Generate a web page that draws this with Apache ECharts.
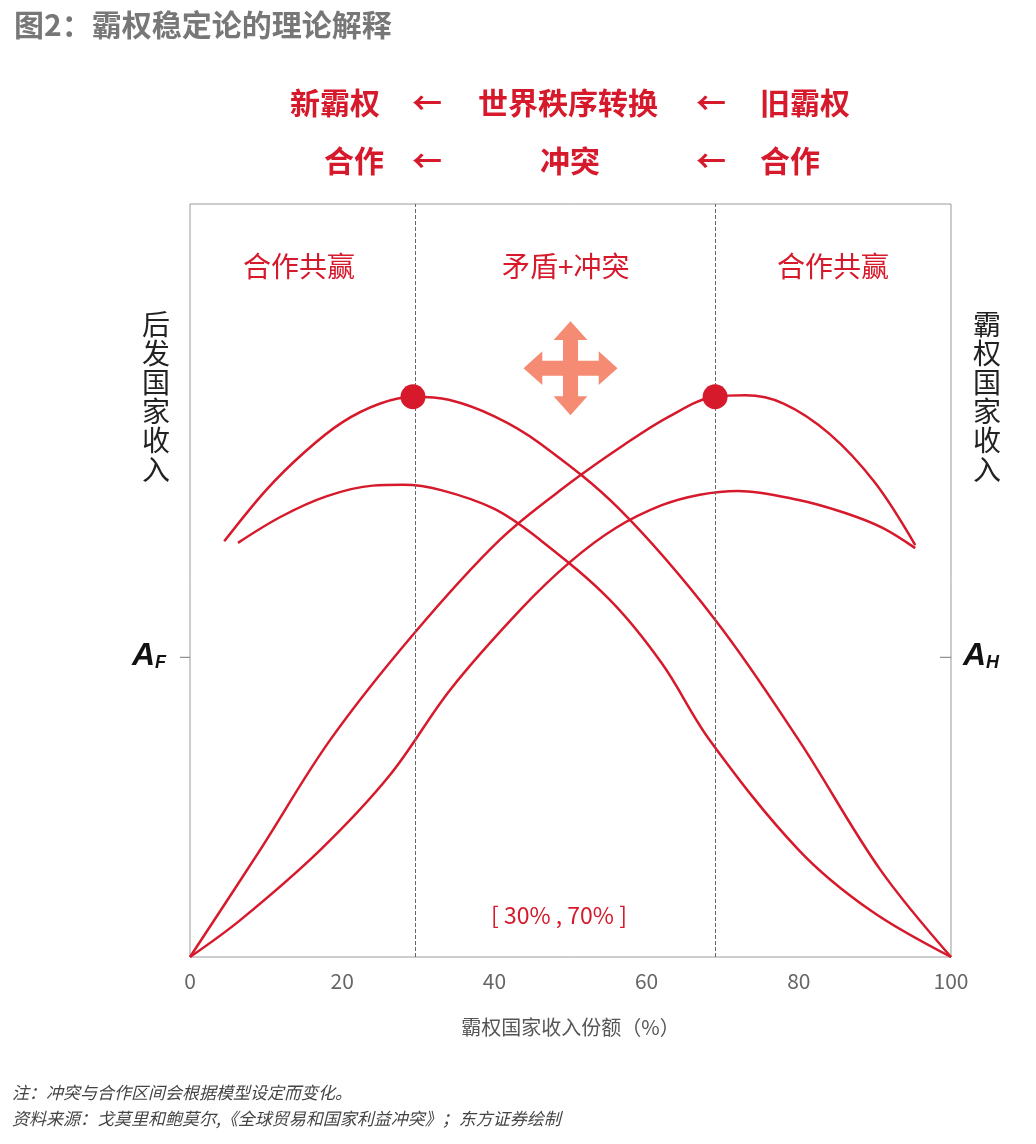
<!DOCTYPE html>
<html><head><meta charset="utf-8">
<script src="https://cdn.jsdelivr.net/npm/echarts@6/dist/echarts.min.js"></script>
<style>html,body{margin:0;background:#fff}#c{width:1036px;height:1144px}</style>
</head><body><div id="c"></div>
<script>
const RED = '#d7192c';
const FONT = '"Noto Sans CJK SC", sans-serif';

// curve points [share %, income]
const leftHigh  = [[4.5,55.2],[10,62],[15,67],[20,71],[25,73.5],[29.3,74.4],[34,74],[40,71.8],[46,68.2],[56.5,59.4],[69,44.8],[80,28.8],[90.7,11.6],[100,0]];
const leftLow   = [[6.3,55],[12,58.5],[18,61.2],[24,62.6],[28,62.7],[33,62],[40,59.5],[46,55.4],[55.2,47.4],[62,39],[68.3,28.8],[80,14.2],[89.4,6.2],[100,0]];
const rightHigh = [[0,0],[9.2,14.2],[18.4,28.8],[29.3,42.8],[40.7,55.4],[50,63],[57,68],[63,71.8],[68.9,74.4],[73,74.6],[78,73.5],[84,69.5],[90,63],[95.3,54.7]];
const rightLow  = [[0,0],[6.6,4.9],[17.1,14.2],[26.3,24.2],[34.2,35.5],[43.4,46.1],[50,52.5],[56,57],[62,60],[67,61.4],[72,61.9],[80,60.7],[86,59],[91,57],[95.3,54.3]];
const peaks = [[29.3,74.4],[69,74.4]];
const bounds = [29.6, 69];
const xTicks = [0, 20, 40, 60, 80, 100];
const aLevel = 39.8;

const chart = echarts.init(document.getElementById('c'));
const line = d => ({ type:'line', data:d, smooth:0.35, symbol:'none', lineStyle:{color:RED,width:2.5}, z:3 });
const arrow = 'path://M50,0 L68,20 L58,20 L58,42 L80,42 L80,32 L100,50 L80,68 L80,58 L58,58 L58,80 L68,80 L50,100 L32,80 L42,80 L42,58 L20,58 L20,68 L0,50 L20,32 L20,42 L42,42 L42,20 L32,20 Z';

chart.setOption({
  animation:false,
  grid:{left:190,right:85,top:204,bottom:187,show:true,borderColor:'#9a9a9a',borderWidth:1},
  xAxis:{type:'value',min:0,max:100,interval:20,
    axisLine:{show:false},axisTick:{show:false},splitLine:{show:false},
    axisLabel:{color:'#666',fontSize:21,fontFamily:FONT,margin:14,formatter:v=>xTicks.includes(v)?v:''},
    name:'霸权国家收入份额（%）',nameLocation:'middle',nameGap:60,
    nameTextStyle:{color:'#555',fontSize:20,fontFamily:FONT}},
  yAxis:{type:'value',min:0,max:100,show:false},
  series:[
    line(leftHigh), line(leftLow), line(rightHigh), line(rightLow),
    {type:'scatter',data:peaks,symbolSize:25,itemStyle:{color:RED,opacity:1},z:5,
     markLine:{silent:true,symbol:'none',label:{show:false},
       lineStyle:{color:'#666',type:'dashed',width:1},
       data:bounds.map(v=>({xAxis:v}))}},
    {type:'scatter',data:[[50,78.2]],symbol:arrow,symbolSize:94,itemStyle:{color:'#f58b72',opacity:1},z:2}
  ],
  graphic:[
    {type:'text',left:14,top:10,style:{text:'图2：霸权稳定论的理论解释',fill:'#777',font:'bold 30px '+FONT}},
    {type:'text',left:290,top:88,style:{text:'新霸权',fill:RED,font:'bold 30px '+FONT}},
    {type:'text',left:412,top:88,style:{text:'←',fill:RED,font:'bold 30px '+FONT}},
    {type:'text',left:478,top:88,style:{text:'世界秩序转换',fill:RED,font:'bold 30px '+FONT}},
    {type:'text',left:696,top:88,style:{text:'←',fill:RED,font:'bold 30px '+FONT}},
    {type:'text',left:760,top:88,style:{text:'旧霸权',fill:RED,font:'bold 30px '+FONT}},
    {type:'text',left:324,top:146,style:{text:'合作',fill:RED,font:'bold 30px '+FONT}},
    {type:'text',left:412,top:146,style:{text:'←',fill:RED,font:'bold 30px '+FONT}},
    {type:'text',left:540,top:146,style:{text:'冲突',fill:RED,font:'bold 30px '+FONT}},
    {type:'text',left:696,top:146,style:{text:'←',fill:RED,font:'bold 30px '+FONT}},
    {type:'text',left:760,top:146,style:{text:'合作',fill:RED,font:'bold 30px '+FONT}},
    {type:'text',left:243,top:252,style:{text:'合作共赢',fill:RED,font:'28px '+FONT}},
    {type:'text',left:502,top:252,style:{text:'矛盾+冲突',fill:RED,font:'28px '+FONT}},
    {type:'text',left:777,top:252,style:{text:'合作共赢',fill:RED,font:'28px '+FONT}},
    {type:'text',left:491,top:904,style:{text:'[ 30% , 70% ]',fill:RED,font:'23px '+FONT}},
    {type:'text',left:142,top:310,style:{text:'后\n发\n国\n家\n收\n入',fill:'#222',font:'28px '+FONT,lineHeight:29}},
    {type:'text',left:973,top:310,style:{text:'霸\n权\n国\n家\n收\n入',fill:'#222',font:'28px '+FONT,lineHeight:29}},
    {type:'text',left:132,top:640,style:{text:'{a|A}{s|F}',rich:{a:{fill:'#111',font:'italic bold 32px Liberation Sans'},s:{fill:'#111',font:'italic bold 18px Liberation Sans',padding:[14,0,0,0]}}}},
    {type:'text',left:963,top:640,style:{text:'{a|A}{s|H}',rich:{a:{fill:'#111',font:'italic bold 32px Liberation Sans'},s:{fill:'#111',font:'italic bold 18px Liberation Sans',padding:[14,0,0,0]}}}},
    {type:'line',shape:{x1:180,y1:957-aLevel*7.53,x2:190,y2:957-aLevel*7.53},style:{stroke:'#777',lineWidth:1}},
    {type:'line',shape:{x1:940,y1:957-aLevel*7.53,x2:951,y2:957-aLevel*7.53},style:{stroke:'#777',lineWidth:1}},
    {type:'text',left:12,top:1084,style:{text:'注：冲突与合作区间会根据模型设定而变化。',fill:'#444',font:'italic 17px '+FONT}},
    {type:'text',left:12,top:1110,style:{text:'资料来源：戈莫里和鲍莫尔,《全球贸易和国家利益冲突》；东方证券绘制',fill:'#444',font:'italic 17px '+FONT}}
  ]
});
</script></body></html>
